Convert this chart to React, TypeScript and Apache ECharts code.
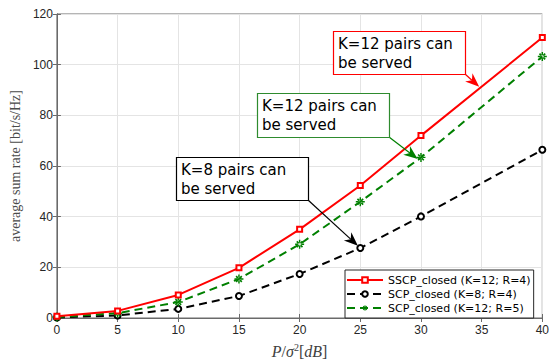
import React, { useEffect, useRef } from "react";
import * as echarts from "echarts";

const xValues = [0, 5, 10, 15, 20, 25, 30, 40];
const sscpK12R4 = [0.7, 2.8, 9.1, 19.8, 35.0, 52.3, 72.0, 110.7];
const scpK8R4 = [0.2, 1.0, 3.6, 8.7, 17.4, 27.6, 40.1, 66.4];
const scpK12R5 = [0.4, 1.9, 6.3, 15.4, 29.1, 45.9, 63.4, 103.2];

const seriesNames = [
  "SSCP_closed (K=12; R=4)",
  "SCP_closed (K=8; R=4)",
  "SCP_closed (K=12; R=5)",
];

const annotationTexts = ["K=12 pairs can\nbe served", "K=12 pairs can\nbe served", "K=8 pairs can\nbe served"];
const annotationColors = ["#ff0000", "#2e8b2e", "#000000"];
// box [left, top, width, height] in pixels; arrow tips in data coords
const annotationBoxes = [
  [333, 31, 132, 43],
  [257, 93, 132, 44],
  [176, 157, 132, 43],
];
const annotationTips = [
  [34.8, 91.3],
  [29.73, 62.8],
  [24.8, 28.5],
];
const annotationArrowColors = ["#ff0000", "#008000", "#000000"];

const asterisk =
  "path://M-5,-0.8L5,-0.8L5,0.8L-5,0.8ZM-0.8,-5L0.8,-5L0.8,5L-0.8,5ZM2.54,3.82L3.82,2.54L-2.54,-3.82L-3.82,-2.54ZM3.82,-2.54L2.54,-3.82L-3.82,2.54L-2.54,3.82Z";

const pair = (ys: number[]) => xValues.map((x, i) => [x, ys[i]]);

export default function App() {
  const ref = useRef<HTMLDivElement>(null);
  useEffect(() => {
    if (!ref.current) return;
    const chart = echarts.init(ref.current, undefined, { renderer: "svg" });
    const axisColor = "#6a6a6a";
    const labelStyle = {
      color: "#262626",
      fontFamily: "Liberation Sans",
      fontSize: 12,
    };
    chart.setOption({
      animation: false,
      backgroundColor: "#ffffff",
      grid: {
        left: 54,
        right: 9,
        top: 14,
        bottom: 37,
        show: true,
        borderColor: axisColor,
        borderWidth: 1,
      },
      xAxis: [
        {
          type: "value",
          min: 0,
          max: 40,
          interval: 5,
          axisLine: { show: true, lineStyle: { color: axisColor, width: 1 } },
          axisTick: { show: true, inside: true, length: 4, lineStyle: { color: axisColor } },
          axisLabel: { ...labelStyle, margin: 6 },
          splitLine: { show: true, lineStyle: { color: "#e4e4e4", width: 1 } },
          name: "{i|P}{n|/}{i|σ}{s|2}{n|[}{i|dB}{n|]}",
          nameLocation: "middle",
          nameGap: 24,
          nameTextStyle: {
            rich: {
              i: { fontFamily: "Liberation Serif", fontStyle: "italic", fontSize: 16, color: "#404040" },
              n: { fontFamily: "Liberation Serif", fontSize: 16, color: "#404040" },
              s: { fontFamily: "Liberation Serif", fontSize: 10, color: "#404040", verticalAlign: "top", padding: [0, 0, 8, 0] },
            },
          },
        },
        {
          type: "value",
          position: "top",
          min: 0,
          max: 40,
          interval: 5,
          axisLine: { show: true, lineStyle: { color: axisColor, width: 1 } },
          axisTick: { show: true, inside: true, length: 4, lineStyle: { color: axisColor } },
          axisLabel: { show: false },
          splitLine: { show: false },
        },
      ],
      yAxis: [
        {
          type: "value",
          min: 0,
          max: 120,
          interval: 20,
          axisLine: { show: true, lineStyle: { color: axisColor, width: 1 } },
          axisTick: { show: true, inside: true, length: 4, lineStyle: { color: axisColor } },
          axisLabel: { ...labelStyle, margin: 4 },
          splitLine: { show: true, lineStyle: { color: "#e4e4e4", width: 1 } },
          name: "average sum rate [bit/s/Hz]",
          nameLocation: "middle",
          nameGap: 29,
          nameTextStyle: {
            fontFamily: "Liberation Serif",
            fontSize: 14,
            color: "#4a4a4a",
          },
        },
        {
          type: "value",
          position: "right",
          min: 0,
          max: 120,
          interval: 20,
          axisLine: { show: true, lineStyle: { color: axisColor, width: 1 } },
          axisTick: { show: true, inside: true, length: 4, lineStyle: { color: axisColor } },
          axisLabel: { show: false },
          splitLine: { show: false },
        },
      ],
      legend: {
        orient: "vertical",
        left: 345,
        top: 270,
        backgroundColor: "#ffffff",
        borderColor: "#262626",
        borderWidth: 1,
        padding: [3, 3, 3, 1],
        itemGap: 0,
        itemWidth: 36,
        itemHeight: 7,
        textStyle: {
          fontFamily: "DejaVu Sans",
          fontSize: 11,
          color: "#000000",
          lineHeight: 14,
        },
        data: seriesNames,
      },
      series: [
        {
          name: seriesNames[0],
          type: "line",
          xAxisIndex: 0,
          yAxisIndex: 0,
          data: pair(sscpK12R4),
          symbol: "emptyRect",
          symbolSize: 5,
          lineStyle: { color: "#ff0000", width: 2 },
          itemStyle: { color: "#ff0000", borderColor: "#ff0000", borderWidth: 2.2 },
          z: 4,
        },
        {
          name: seriesNames[1],
          type: "line",
          xAxisIndex: 0,
          yAxisIndex: 0,
          data: pair(scpK8R4),
          symbol: "emptyCircle",
          symbolSize: 6,
          lineStyle: { color: "#000000", width: 2, type: [8, 5] },
          itemStyle: { color: "#000000", borderColor: "#000000", borderWidth: 2 },
          z: 2,
        },
        {
          name: seriesNames[2],
          type: "line",
          xAxisIndex: 0,
          yAxisIndex: 0,
          data: pair(scpK12R5),
          symbol: asterisk,
          symbolSize: 9,
          lineStyle: { color: "#008000", width: 2, type: [8, 5] },
          itemStyle: { color: "#008000" },
          z: 3,
        },
      ],
    });

    const graphics: any[] = [];
    annotationBoxes.forEach((b, i) => {
      const [bx, by, bw, bh] = b;
      const tip = chart.convertToPixel({ xAxisIndex: 0, yAxisIndex: 0 }, annotationTips[i]) as number[];
      const sx = bx + bw;
      const sy = by + bh;
      const dx = tip[0] - sx;
      const dy = tip[1] - sy;
      const len = Math.sqrt(dx * dx + dy * dy);
      const ux = dx / len;
      const uy = dy / len;
      const nx = -uy;
      const ny = ux;
      const L = 14;
      const W = 5.5;
      const notch = 0.7 * L;
      const color = annotationArrowColors[i];
      graphics.push({
        type: "line",
        z: 100,
        shape: { x1: sx, y1: sy, x2: tip[0] - notch * ux, y2: tip[1] - notch * uy },
        style: { stroke: color, lineWidth: 1.2 },
      });
      graphics.push({
        type: "polygon",
        z: 101,
        shape: {
          points: [
            [tip[0], tip[1]],
            [tip[0] - L * ux + W * nx, tip[1] - L * uy + W * ny],
            [tip[0] - notch * ux, tip[1] - notch * uy],
            [tip[0] - L * ux - W * nx, tip[1] - L * uy - W * ny],
          ],
        },
        style: { fill: color },
      });
      graphics.push({
        type: "rect",
        z: 102,
        shape: { x: bx + 0.5, y: by + 0.5, width: bw, height: bh },
        style: { fill: "#ffffff", stroke: annotationColors[i], lineWidth: 1.2 },
      });
      graphics.push({
        type: "text",
        z: 103,
        x: bx + 5,
        y: by + 3,
        style: {
          text: annotationTexts[i],
          fontFamily: "DejaVu Sans",
          fontSize: 15,
          lineHeight: 19,
          fill: "#000000",
          verticalAlign: "top",
        },
      });
    });
    chart.setOption({ graphic: graphics });

    return () => chart.dispose();
  }, []);

  return (
    <div
      ref={ref}
      style={{ position: "fixed", left: 0, top: 0, width: 552, height: 364, background: "#fff" }}
    />
  );
}
